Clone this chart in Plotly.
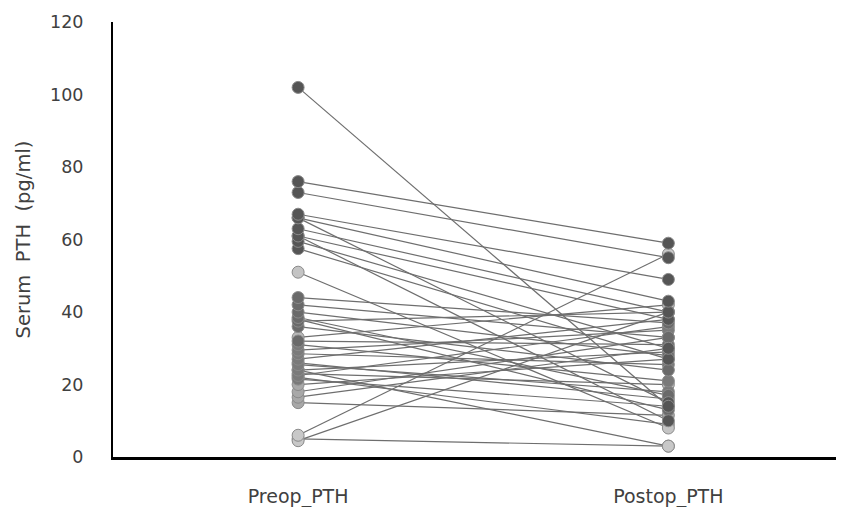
import plotly.graph_objects as go

categories = ["Preop_PTH", "Postop_PTH"]
y_ticks = [0, 20, 40, 60, 80, 100, 120]

preop_pth = [102, 76, 73, 67, 66, 63, 61, 59.5, 57.5, 66, 61,
             51, 44, 42, 40, 38.5, 37.5, 36, 38, 32, 31,
             29.5, 28.5, 27, 25.5, 24, 22.5, 21.5, 20, 18, 16.5,
             15, 6, 4.5, 5, 24, 26, 23, 33, 22]
postop_pth = [14, 59, 55, 49, 43, 40, 38, 30, 27, 15, 10,
              8, 37, 33, 28, 17, 40, 24, 13, 31, 21,
              35, 25.5, 38, 18, 29, 36, 14, 27, 33, 30,
              11.5, 56, 40, 3, 3, 16, 20, 42, 9]

# per-pair marker shade (style only)
pair_shade = (["#555555"] * 11 + ["#c4c4c4"] + ["#6a6a6a"] * 8 + ["#7a7a7a"] * 8
              + ["#a8a8a8"] * 4 + ["#c8c8c8"] * 3 + ["#b8b8b8"] * 5)

fig = go.Figure()
for a, b in zip(preop_pth, postop_pth):
    fig.add_trace(go.Scatter(
        x=[0, 1], y=[a, b], mode="lines",
        line=dict(color="#6e6e6e", width=1.2),
        showlegend=False, hoverinfo="skip"))
order = list(range(len(preop_pth)))[::-1]
for i in order:
    fig.add_trace(go.Scatter(
        x=[0, 1], y=[preop_pth[i], postop_pth[i]], mode="markers",
        marker=dict(size=12, color=pair_shade[i],
                    line=dict(color="#8a8a8a", width=1)),
        showlegend=False))

font_family = "DejaVu Sans, sans-serif"
fig.update_layout(
    width=844, height=500,
    margin=dict(l=105, r=0, t=14, b=47),
    paper_bgcolor="white", plot_bgcolor="white",
    font=dict(family=font_family, size=17, color="#404040"),
    xaxis=dict(
        range=[-0.5, 1.496], tickvals=[0, 1], ticktext=categories,
        showgrid=False, zeroline=False, showline=True,
        linecolor="black", linewidth=2.5, ticks="",
        ticklabelstandoff=20, tickfont=dict(size=19, color="#404040")),
    yaxis=dict(
        range=[0, 120.05], tickvals=y_ticks,
        showgrid=False, zeroline=False, showline=True,
        linecolor="black", linewidth=2, ticks="",
        ticklabelstandoff=24, tickfont=dict(size=17.5, color="#404040")),
)
fig.update_yaxes(title=dict(text="Serum&nbsp; PTH&nbsp; (pg/ml)", standoff=14,
                            font=dict(size=19.5, color="#404040")))

fig.write_html("out.html")
